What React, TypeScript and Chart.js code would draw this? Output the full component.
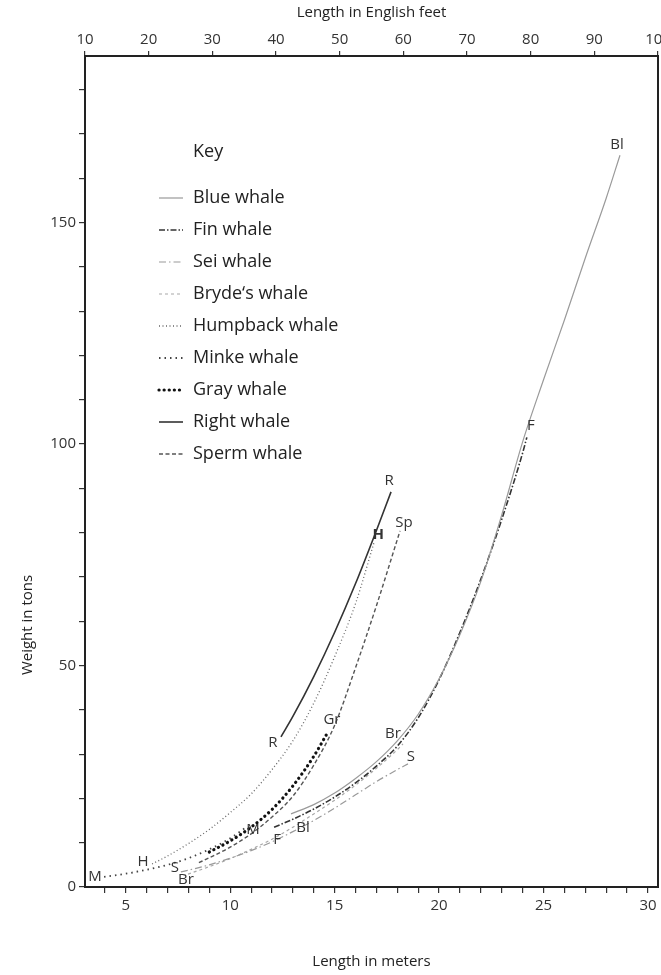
import React, { useEffect, useRef } from 'react';
import { Chart, registerables } from 'chart.js';

Chart.register(...registerables);

// ---- tick definitions ----
const meterTicks = [4, 5, 6, 7, 8, 9, 10, 11, 12, 13, 14, 15, 16, 17, 18, 19, 20, 21, 22, 23, 24, 25, 26, 27, 28, 29, 30];
const meterLabels = [5, 10, 15, 20, 25, 30];
const feetTicks = [10, 20, 30, 40, 50, 60, 70, 80, 90, 100];
const tonTicks = [0, 10, 20, 30, 40, 50, 60, 70, 80, 90, 100, 110, 120, 130, 140, 150, 160, 170, 180];
const tonLabels = [0, 50, 100, 150];

// ---- series: [length in meters, weight in tons] ----
const blueWhale = [[12.91, 16.5], [14, 18.6], [15, 21.2], [16, 24.5], [17, 28.3], [18, 33], [19, 39], [20, 47], [21, 57], [22, 69], [23, 84], [24, 100.5], [25, 114.5], [26, 128], [27, 142], [28, 155.5], [28.66, 165.2]];
const finWhale = [[12.1, 13.5], [13, 15.3], [14, 17.6], [15, 20.3], [16, 23.5], [17, 27.3], [18, 31.8], [19, 38.2], [20, 46.8], [21, 57.5], [22, 69.5], [23, 83], [24, 98], [24.2, 101.5]];
const seiWhale = [[7.64, 3.4], [8, 3.8], [9, 5], [10, 6.5], [11, 8.2], [12, 10.2], [13, 12.5], [14, 15], [15, 17.8], [16, 20.8], [17, 23.8], [18, 26.5], [18.51, 27.8]];
const brydesWhale = [[7.98, 2.9], [9, 4.6], [10, 6.4], [11, 8.5], [12, 10.8], [13, 13.5], [14, 16.5], [15, 19.6], [16, 23], [17, 26.8], [18, 31], [18.27, 32.3]];
const humpbackWhale = [[6.26, 5.2], [7, 7], [8, 9.8], [9, 13], [10, 16.8], [11, 21], [12, 26.5], [13, 33], [14, 41.5], [15, 52], [16, 64], [16.9, 78]];
const minkeWhale = [[3.96, 2.3], [5, 3], [6, 3.9], [7, 5], [8, 6.5], [9, 8.5], [10, 11], [10.71, 13.3]];
const grayWhale = [[9.0, 7.9], [10, 10.4], [11, 13.5], [12, 17.5], [13, 22.8], [14, 29.5], [14.68, 35]];
const rightWhale = [[12.43, 33.9], [13, 38.5], [14, 47.5], [15, 57.5], [16, 68.5], [17, 80.5], [17.7, 89.2]];
const spermWhale = [[8.5, 5.5], [9, 6.6], [10, 9], [11, 12], [12, 15.8], [13, 20.5], [14, 27.5], [15, 36.5], [16, 49.5], [17, 63.5], [18.13, 80.4]];

const seriesNames = ['Blue whale', 'Fin whale', 'Sei whale', 'Bryde\u2018s whale', 'Humpback whale', 'Minke whale', 'Gray whale', 'Right whale', 'Sperm whale'];
const seriesData = [blueWhale, finWhale, seiWhale, brydesWhale, humpbackWhale, minkeWhale, grayWhale, rightWhale, spermWhale];
const startTags = ['Bl', 'F', 'S', 'Br', 'H', 'M', '', 'R', ''];
const endTags = ['Bl', 'F', 'S', 'Br', 'H', 'M', 'Gr', 'R', 'Sp'];

// ---- styles ----
const styles = [
  { color: '#9a9a9a', width: 1.2, dash: [], cap: 'butt', sOff: [12, 14], eOff: [-3, -10] },
  { color: '#333333', width: 1.6, dash: [6, 2, 1.5, 2], cap: 'butt', sOff: [3, 13], eOff: [4, -12] },
  { color: '#9a9a9a', width: 1.2, dash: [7, 3, 1.5, 3], cap: 'butt', sOff: [-6, -4], eOff: [3, -7] },
  { color: '#a8a8a8', width: 1.2, dash: [3, 3], cap: 'butt', sOff: [-2, 6], eOff: [-10, -10] },
  { color: '#666666', width: 1.3, dash: [1, 2.5], cap: 'butt', sOff: [-9, -2], eOff: [4, -7] },
  { color: '#444444', width: 1.8, dash: [1.5, 4], cap: 'butt', sOff: [-9, 0], eOff: [8, 2] },
  { color: '#111111', width: 3.2, dash: [0.1, 5], cap: 'round', sOff: [0, 0], eOff: [4, -12] },
  { color: '#333333', width: 1.6, dash: [], cap: 'butt', sOff: [-8, 6], eOff: [-2, -11] },
  { color: '#555555', width: 1.4, dash: [4, 2.5], cap: 'butt', sOff: [0, 0], eOff: [4, -8] },
];

const FONT = '"Open Sans", "DejaVu Sans", sans-serif';

const tagPlugin = {
  id: 'curveTags',
  afterDatasetsDraw(chart: any) {
    const ctx = chart.ctx;
    ctx.save();
    ctx.fillStyle = '#333';
    ctx.textAlign = 'center';
    ctx.textBaseline = 'middle';
    chart.data.datasets.forEach((_ds: any, i: number) => {
      const pts = chart.getDatasetMeta(i).data;
      if (!pts.length) return;
      const st = styles[i];
      if (startTags[i]) {
        const p = pts[0];
        ctx.font = `15px ${FONT}`;
        ctx.fillText(startTags[i], p.x + st.sOff[0], p.y + st.sOff[1]);
      }
      if (endTags[i]) {
        const p = pts[pts.length - 1];
        ctx.font = endTags[i] === 'H' ? `bold 15px ${FONT}` : `15px ${FONT}`;
        ctx.fillText(endTags[i], p.x + st.eOff[0], p.y + st.eOff[1]);
      }
    });
    ctx.restore();
  },
};

const keyPlugin = {
  id: 'keyBox',
  afterDraw(chart: any) {
    const ctx = chart.ctx;
    ctx.save();
    ctx.font = `18px ${FONT}`;
    ctx.fillStyle = '#222';
    ctx.textAlign = 'left';
    ctx.textBaseline = 'middle';
    ctx.fillText('Key', 193, 152);
    seriesNames.forEach((name, i) => {
      const y = 198 + i * 32;
      const st = styles[i];
      ctx.save();
      ctx.strokeStyle = st.color;
      ctx.lineWidth = st.width;
      ctx.lineCap = st.cap;
      ctx.setLineDash(st.dash);
      ctx.beginPath();
      ctx.moveTo(159, y);
      ctx.lineTo(183, y);
      ctx.stroke();
      ctx.restore();
      ctx.fillText(name, 193, y);
    });
    // y-axis title
    const ys = chart.scales.y;
    ctx.save();
    ctx.translate(ys.left + 28, 625);
    ctx.rotate(-Math.PI / 2);
    ctx.font = `15px ${FONT}`;
    ctx.textAlign = 'center';
    ctx.fillText('Weight in tons', 0, 0);
    ctx.restore();
    ctx.restore();
  },
};

export default function App() {
  const ref = useRef<HTMLCanvasElement | null>(null);

  useEffect(() => {
    if (!ref.current) return;
    const tickFont = { family: FONT, size: 15 };
    const titleFont = { family: FONT, size: 15 };
    const chart = new Chart(ref.current, {
      type: 'line',
      data: {
        datasets: seriesData.map((d, i) => ({
          label: seriesNames[i],
          data: d.map(([x, y]) => ({ x, y })),
          borderColor: styles[i].color,
          borderWidth: styles[i].width,
          borderDash: styles[i].dash,
          borderCapStyle: styles[i].cap as any,
          cubicInterpolationMode: 'monotone' as const,
          pointRadius: 0,
          fill: false,
          xAxisID: 'x',
          yAxisID: 'y',
        })),
      },
      options: {
        animation: false,
        responsive: false,
        layout: { padding: 0 },
        plugins: { legend: { display: false }, tooltip: { enabled: false } },
        scales: {
          x: {
            type: 'linear',
            position: 'bottom',
            min: 3.048,
            max: 30.48,
            afterBuildTicks: (s: any) => { s.ticks = meterTicks.map((v) => ({ value: v })); },
            afterFit: (s: any) => { s.height = 88; s.paddingLeft = 0; s.paddingRight = 0; },
            ticks: {
              autoSkip: false,
              maxRotation: 0,
              padding: 4,
              color: '#333',
              font: tickFont,
              callback: (v: any) => (meterLabels.includes(Number(v)) ? String(v) : ''),
            },
            grid: { display: true, drawOnChartArea: false, drawTicks: true, tickLength: 6, color: '#333', lineWidth: 1.2 },
            border: { display: true, color: '#222', width: 2 },
            title: { display: true, text: 'Length in meters', font: titleFont, color: '#222', padding: { top: 0, bottom: 4 } },
          },
          x2: {
            type: 'linear',
            position: 'top',
            min: 10,
            max: 100,
            afterBuildTicks: (s: any) => { s.ticks = feetTicks.map((v) => ({ value: v })); },
            afterFit: (s: any) => { s.height = 56; s.paddingLeft = 0; s.paddingRight = 0; },
            ticks: { autoSkip: false, maxRotation: 0, padding: 2, color: '#333', font: tickFont },
            grid: { display: true, drawOnChartArea: false, drawTicks: true, tickLength: 5, color: '#333', lineWidth: 1.2 },
            border: { display: true, color: '#222', width: 2 },
            title: { display: true, text: 'Length in English feet', font: titleFont, color: '#222', padding: { top: 4, bottom: 0 } },
          },
          y: {
            type: 'linear',
            position: 'left',
            min: 0,
            max: 187.6,
            afterBuildTicks: (s: any) => { s.ticks = tonTicks.map((v) => ({ value: v })); },
            afterFit: (s: any) => { s.width = 85; s.paddingTop = 0; s.paddingBottom = 0; },
            ticks: {
              autoSkip: false,
              padding: 3,
              color: '#333',
              font: tickFont,
              callback: (v: any) => (tonLabels.includes(Number(v)) ? String(v) : ''),
            },
            grid: { display: true, drawOnChartArea: false, drawTicks: true, tickLength: 6, color: '#333', lineWidth: 1.2 },
            border: { display: true, color: '#222', width: 2 },
            title: { display: false },
          },
          y2: {
            type: 'linear',
            position: 'right',
            min: 0,
            max: 1,
            afterFit: (s: any) => { s.width = 3; s.paddingTop = 0; s.paddingBottom = 0; },
            ticks: { display: false },
            grid: { display: false },
            border: { display: true, color: '#222', width: 2 },
          },
        },
      } as any,
      plugins: [tagPlugin, keyPlugin],
    });
    return () => chart.destroy();
  }, []);

  return (
    <div style={{ position: 'absolute', left: 0, top: 0, width: 661, height: 975, background: '#fff' }}>
      <canvas ref={ref} width={661} height={975} style={{ display: 'block' }} />
    </div>
  );
}
